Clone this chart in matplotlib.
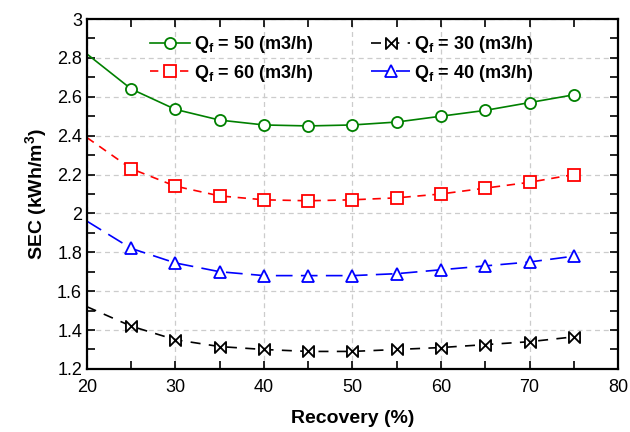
import matplotlib
matplotlib.use("Agg")
import matplotlib.pyplot as plt
from matplotlib.path import Path
from matplotlib.ticker import MultipleLocator

plt.rcParams['font.family'] = ['Liberation Sans', 'DejaVu Sans']
plt.rcParams['mathtext.fontset'] = 'custom'
plt.rcParams['mathtext.bf'] = 'Liberation Sans:bold'
plt.rcParams['mathtext.rm'] = 'Liberation Sans'
plt.rcParams['mathtext.it'] = 'Liberation Sans:italic'

recovery = [20, 25, 30, 35, 40, 45, 50, 55, 60, 65, 70, 75]
sec_q50 = [2.82, 2.64, 2.535, 2.48, 2.455, 2.45, 2.455, 2.47, 2.50, 2.53, 2.57, 2.61]
sec_q60 = [2.39, 2.23, 2.14, 2.09, 2.07, 2.065, 2.07, 2.08, 2.10, 2.13, 2.16, 2.20]
sec_q40 = [1.96, 1.82, 1.745, 1.70, 1.68, 1.68, 1.68, 1.69, 1.71, 1.73, 1.75, 1.78]
sec_q30 = [1.52, 1.42, 1.35, 1.315, 1.30, 1.29, 1.29, 1.30, 1.31, 1.325, 1.34, 1.365]

labels = [r'$\mathbf{Q_f}$ = 50 (m3/h)', r'$\mathbf{Q_f}$ = 60 (m3/h)',
          r'$\mathbf{Q_f}$ = 30 (m3/h)', r'$\mathbf{Q_f}$ = 40 (m3/h)']
yticks = [1.2, 1.4, 1.6, 1.8, 2.0, 2.2, 2.4, 2.6, 2.8, 3.0]
ytick_labels = ['1.2', '1.4', '1.6', '1.8', '2', '2.2', '2.4', '2.6', '2.8', '3']

bowtie = Path([(-1, -1), (1, 1), (1, -1), (-1, 1), (-1, -1)],
              [Path.MOVETO, Path.LINETO, Path.LINETO, Path.LINETO, Path.CLOSEPOLY])

fig = plt.figure(figsize=(6.3, 4.32), dpi=100)
ax = fig.add_axes([0.138, 0.146, 0.843, 0.810])

mk = dict(markevery=slice(1, None), markersize=8, markerfacecolor='white', markeredgewidth=1.3)
l1, = ax.plot(recovery, sec_q50, color='#008000', ls='-', lw=1.2, marker='o', label=labels[0], **mk)
l2, = ax.plot(recovery, sec_q60, color='#ff0000', ls=(0, (5, 4)), lw=1.2, marker='s', label=labels[1], **mk)
l4, = ax.plot(recovery, sec_q40, color='#0000ff', ls=(0, (10, 5)), lw=1.2, marker='^', label=labels[3], **mk)
l3, = ax.plot(recovery, sec_q30, color='black', ls=(0, (6, 5)), lw=1.2, marker=bowtie, label=labels[2],
              markevery=slice(1, None), markersize=8, markerfacecolor='white', markeredgewidth=1.3)

ax.set_xlim(20, 80)
ax.set_ylim(1.2, 3.0)
ax.xaxis.set_major_locator(MultipleLocator(10))
ax.xaxis.set_minor_locator(MultipleLocator(5))
ax.yaxis.set_minor_locator(MultipleLocator(0.1))
ax.set_yticks(yticks)
ax.set_yticklabels(ytick_labels)
ax.grid(True, which='major', ls=(0, (4, 3)), color='#cccccc', lw=0.9)
ax.tick_params(which='both', direction='in', top=True, right=True, labelsize=13, width=1.2, length=6)
ax.tick_params(axis='x', which='both', pad=7)
for s in ax.spines.values():
    s.set_linewidth(1.6)

ax.set_xlabel('Recovery (%)', fontsize=14, fontweight='bold')
ax.xaxis.set_label_coords(0.5, -0.118)
ax.set_ylabel(r'SEC (kWh/m$^\mathbf{3}$)', fontsize=14, fontweight='bold', labelpad=6)

leg = ax.legend([l1, l2, l3, l4], labels, ncol=2, loc='center', bbox_to_anchor=(0.480, 0.886),
                frameon=False, prop={'weight': 'bold', 'size': 13}, columnspacing=3.2,
                handlelength=2.2, handletextpad=0.2, labelspacing=0.4, borderpad=0)

fig.savefig('out.png', dpi=100)
